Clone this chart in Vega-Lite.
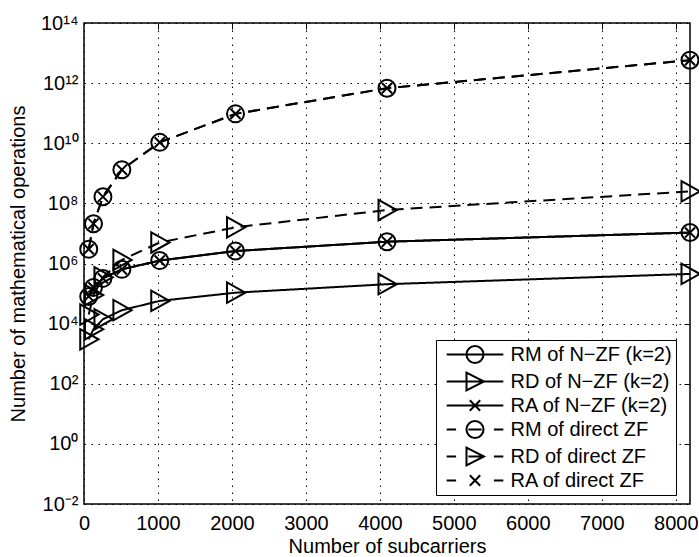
{
  "$schema": "https://vega.github.io/schema/vega-lite/v6.json",
  "width": 606,
  "height": 481,
  "autosize": {"type": "none"},
  "padding": {"left": 84, "top": 23, "right": 9, "bottom": 53},
  "config": {
    "font": "Liberation Sans",
    "view": {"stroke": "black", "strokeWidth": 1.5},
    "axis": {
      "labelFont": "Liberation Sans",
      "labelFontSize": 20,
      "labelColor": "black",
      "titleFont": "Liberation Sans",
      "titleFontSize": 20,
      "titleFontWeight": "normal",
      "titleColor": "black",
      "domain": false,
      "gridColor": "black",
      "gridWidth": 1,
      "gridDash": [1.5, 5.5],
      "tickColor": "black",
      "tickWidth": 1
    }
  },
  "data": {
    "values": [
      {"series": "RM of N−ZF (k=2)", "method": "N-ZF", "n": 64, "ops": 8.0e4},
      {"series": "RM of N−ZF (k=2)", "method": "N-ZF", "n": 128, "ops": 1.6e5},
      {"series": "RM of N−ZF (k=2)", "method": "N-ZF", "n": 256, "ops": 3.2e5},
      {"series": "RM of N−ZF (k=2)", "method": "N-ZF", "n": 512, "ops": 6.4e5},
      {"series": "RM of N−ZF (k=2)", "method": "N-ZF", "n": 1024, "ops": 1.25e6},
      {"series": "RM of N−ZF (k=2)", "method": "N-ZF", "n": 2048, "ops": 2.6e6},
      {"series": "RM of N−ZF (k=2)", "method": "N-ZF", "n": 4096, "ops": 5.3e6},
      {"series": "RM of N−ZF (k=2)", "method": "N-ZF", "n": 8192, "ops": 1.07e7},

      {"series": "RD of N−ZF (k=2)", "method": "N-ZF", "n": 64, "ops": 3.0e3},
      {"series": "RD of N−ZF (k=2)", "method": "N-ZF", "n": 128, "ops": 6.5e3},
      {"series": "RD of N−ZF (k=2)", "method": "N-ZF", "n": 256, "ops": 1.4e4},
      {"series": "RD of N−ZF (k=2)", "method": "N-ZF", "n": 512, "ops": 2.8e4},
      {"series": "RD of N−ZF (k=2)", "method": "N-ZF", "n": 1024, "ops": 5.7e4},
      {"series": "RD of N−ZF (k=2)", "method": "N-ZF", "n": 2048, "ops": 1.07e5},
      {"series": "RD of N−ZF (k=2)", "method": "N-ZF", "n": 4096, "ops": 2.05e5},
      {"series": "RD of N−ZF (k=2)", "method": "N-ZF", "n": 8192, "ops": 4.5e5},

      {"series": "RA of N−ZF (k=2)", "method": "N-ZF", "n": 64, "ops": 8.0e4},
      {"series": "RA of N−ZF (k=2)", "method": "N-ZF", "n": 128, "ops": 1.6e5},
      {"series": "RA of N−ZF (k=2)", "method": "N-ZF", "n": 256, "ops": 3.2e5},
      {"series": "RA of N−ZF (k=2)", "method": "N-ZF", "n": 512, "ops": 6.4e5},
      {"series": "RA of N−ZF (k=2)", "method": "N-ZF", "n": 1024, "ops": 1.25e6},
      {"series": "RA of N−ZF (k=2)", "method": "N-ZF", "n": 2048, "ops": 2.6e6},
      {"series": "RA of N−ZF (k=2)", "method": "N-ZF", "n": 4096, "ops": 5.3e6},
      {"series": "RA of N−ZF (k=2)", "method": "N-ZF", "n": 8192, "ops": 1.07e7},

      {"series": "RM of direct ZF", "method": "direct ZF", "n": 64, "ops": 3.0e6},
      {"series": "RM of direct ZF", "method": "direct ZF", "n": 128, "ops": 2.1e7},
      {"series": "RM of direct ZF", "method": "direct ZF", "n": 256, "ops": 1.66e8},
      {"series": "RM of direct ZF", "method": "direct ZF", "n": 512, "ops": 1.32e9},
      {"series": "RM of direct ZF", "method": "direct ZF", "n": 1024, "ops": 1.07e10},
      {"series": "RM of direct ZF", "method": "direct ZF", "n": 2048, "ops": 9.5e10},
      {"series": "RM of direct ZF", "method": "direct ZF", "n": 4096, "ops": 6.8e11},
      {"series": "RM of direct ZF", "method": "direct ZF", "n": 8192, "ops": 5.8e12},

      {"series": "RD of direct ZF", "method": "direct ZF", "n": 64, "ops": 2.0e4},
      {"series": "RD of direct ZF", "method": "direct ZF", "n": 128, "ops": 8.9e4},
      {"series": "RD of direct ZF", "method": "direct ZF", "n": 256, "ops": 3.5e5},
      {"series": "RD of direct ZF", "method": "direct ZF", "n": 512, "ops": 1.32e6},
      {"series": "RD of direct ZF", "method": "direct ZF", "n": 1024, "ops": 5.0e6},
      {"series": "RD of direct ZF", "method": "direct ZF", "n": 2048, "ops": 1.6e7},
      {"series": "RD of direct ZF", "method": "direct ZF", "n": 4096, "ops": 6.0e7},
      {"series": "RD of direct ZF", "method": "direct ZF", "n": 8192, "ops": 2.5e8},

      {"series": "RA of direct ZF", "method": "direct ZF", "n": 64, "ops": 3.0e6},
      {"series": "RA of direct ZF", "method": "direct ZF", "n": 128, "ops": 2.1e7},
      {"series": "RA of direct ZF", "method": "direct ZF", "n": 256, "ops": 1.66e8},
      {"series": "RA of direct ZF", "method": "direct ZF", "n": 512, "ops": 1.32e9},
      {"series": "RA of direct ZF", "method": "direct ZF", "n": 1024, "ops": 1.07e10},
      {"series": "RA of direct ZF", "method": "direct ZF", "n": 2048, "ops": 9.5e10},
      {"series": "RA of direct ZF", "method": "direct ZF", "n": 4096, "ops": 6.8e11},
      {"series": "RA of direct ZF", "method": "direct ZF", "n": 8192, "ops": 5.8e12}
    ]
  },
  "layer": [
    {
      "mark": {"type": "line", "color": "black", "strokeWidth": 2},
      "encoding": {
        "x": {
          "field": "n",
          "type": "quantitative",
          "scale": {"domain": [0, 8192], "nice": false, "zero": false},
          "axis": {
            "orient": "bottom",
            "title": "Number of subcarriers",
            "values": [0, 1000, 2000, 3000, 4000, 5000, 6000, 7000, 8000],
            "format": "d",
            "ticks": false,
            "labelPadding": 9,
            "titlePadding": 3,
            "grid": true,
            "labelFlush": false,
            "labelOverlap": false
          }
        },
        "y": {
          "field": "ops",
          "type": "quantitative",
          "scale": {"type": "log", "domain": [0.01, 1e14], "nice": false},
          "axis": {
            "orient": "left",
            "title": "Number of mathematical operations",
            "values": [0.01, 1, 100, 10000, 1000000, 100000000, 10000000000, 1000000000000, 100000000000000],
            "labelExpr": "'10' + (datum.value < 0.5 ? '⁻²' : datum.value < 50 ? '⁰' : datum.value < 5e3 ? '²' : datum.value < 5e5 ? '⁴' : datum.value < 5e7 ? '⁶' : datum.value < 5e9 ? '⁸' : datum.value < 5e11 ? '¹⁰' : datum.value < 5e13 ? '¹²' : '¹⁴')",
            "ticks": false,
            "labelPadding": 6,
            "titlePadding": 12,
            "grid": true,
            "labelFlush": false,
            "labelOverlap": false
          }
        },
        "detail": {"field": "series", "type": "nominal"},
        "strokeDash": {
          "field": "method",
          "type": "nominal",
          "scale": {"domain": ["N-ZF", "direct ZF"], "range": [[1, 0], [12, 7]]},
          "legend": null
        }
      }
    },
    {
      "mark": {"type": "point", "filled": false, "color": "black", "opacity": 1, "strokeWidth": 2, "size": 289},
      "encoding": {
        "x": {
          "field": "n",
          "type": "quantitative",
          "axis": {"orient": "top", "title": null, "labels": false, "grid": false, "ticks": true, "tickSize": -6, "values": [1000, 2000, 3000, 4000, 5000, 6000, 7000, 8000]}
        },
        "y": {
          "field": "ops",
          "type": "quantitative",
          "axis": {"orient": "right", "title": null, "labels": false, "grid": false, "ticks": true, "tickSize": -6, "values": [1, 100, 10000, 1000000, 100000000, 10000000000, 1000000000000]}
        },
        "shape": {
          "field": "series",
          "type": "nominal",
          "scale": {
            "domain": ["RM of N−ZF (k=2)", "RD of N−ZF (k=2)", "RA of N−ZF (k=2)", "RM of direct ZF", "RD of direct ZF", "RA of direct ZF"],
            "range": [
              "circle",
              "M-1,-1.2L1.15,0L-1,1.2Z",
              "M-0.6,-0.6L0.6,0.6M-0.6,0.6L0.6,-0.6",
              "circle",
              "M-1,-1.2L1.15,0L-1,1.2Z",
              "M-0.6,-0.6L0.6,0.6M-0.6,0.6L0.6,-0.6"
            ]
          },
          "legend": null
        }
      }
    },
    {
      "transform": [{"filter": "datum.n < 0"}],
      "mark": {"type": "point", "filled": false, "color": "black", "opacity": 1, "strokeWidth": 2},
      "encoding": {
        "x": {"field": "n", "type": "quantitative", "axis": null},
        "y": {"field": "ops", "type": "quantitative", "axis": null},
        "shape": {
          "field": "series",
          "type": "nominal",
          "scale": {
            "domain": ["RM of N−ZF (k=2)", "RD of N−ZF (k=2)", "RA of N−ZF (k=2)", "RM of direct ZF", "RD of direct ZF", "RA of direct ZF"],
            "range": [
              "M-3,0H3M0.9,0A0.9,0.9 0 1,1 -0.9,0A0.9,0.9 0 1,1 0.9,0Z",
              "M-3,0H3M-0.9,-0.95L0.95,0L-0.9,0.95Z",
              "M-3,0H3M-0.55,-0.55L0.55,0.55M-0.55,0.55L0.55,-0.55",
              "M-3,0H-2M-0.7,0H0.7M2,0H3M0.9,0A0.9,0.9 0 1,1 -0.9,0A0.9,0.9 0 1,1 0.9,0Z",
              "M-3,0H-2M-0.7,0H0.7M2,0H3M-0.9,-0.95L0.95,0L-0.9,0.95Z",
              "M-3,0H-2M2,0H3M-0.55,-0.55L0.55,0.55M-0.55,0.55L0.55,-0.55"
            ]
          },
          "legend": {
            "orient": "none",
            "legendX": 352,
            "legendY": 317,
            "title": null,
            "strokeColor": "black",
            "fillColor": "white",
            "padding": 4,
            "cornerRadius": 0,
            "symbolSize": 357,
            "symbolStrokeWidth": 2,
            "symbolStrokeColor": "black",
            "symbolFillColor": "transparent",
            "symbolOpacity": 1,
            "symbolOffset": 24.5,
            "labelOffset": 25,
            "labelFont": "Liberation Sans",
            "labelFontSize": 20,
            "labelColor": "black",
            "labelLimit": 300,
            "rowPadding": 0
          }
        }
      }
    }
  ],
  "resolve": {
    "scale": {"shape": "independent"},
    "axis": {"x": "independent", "y": "independent"}
  }
}
